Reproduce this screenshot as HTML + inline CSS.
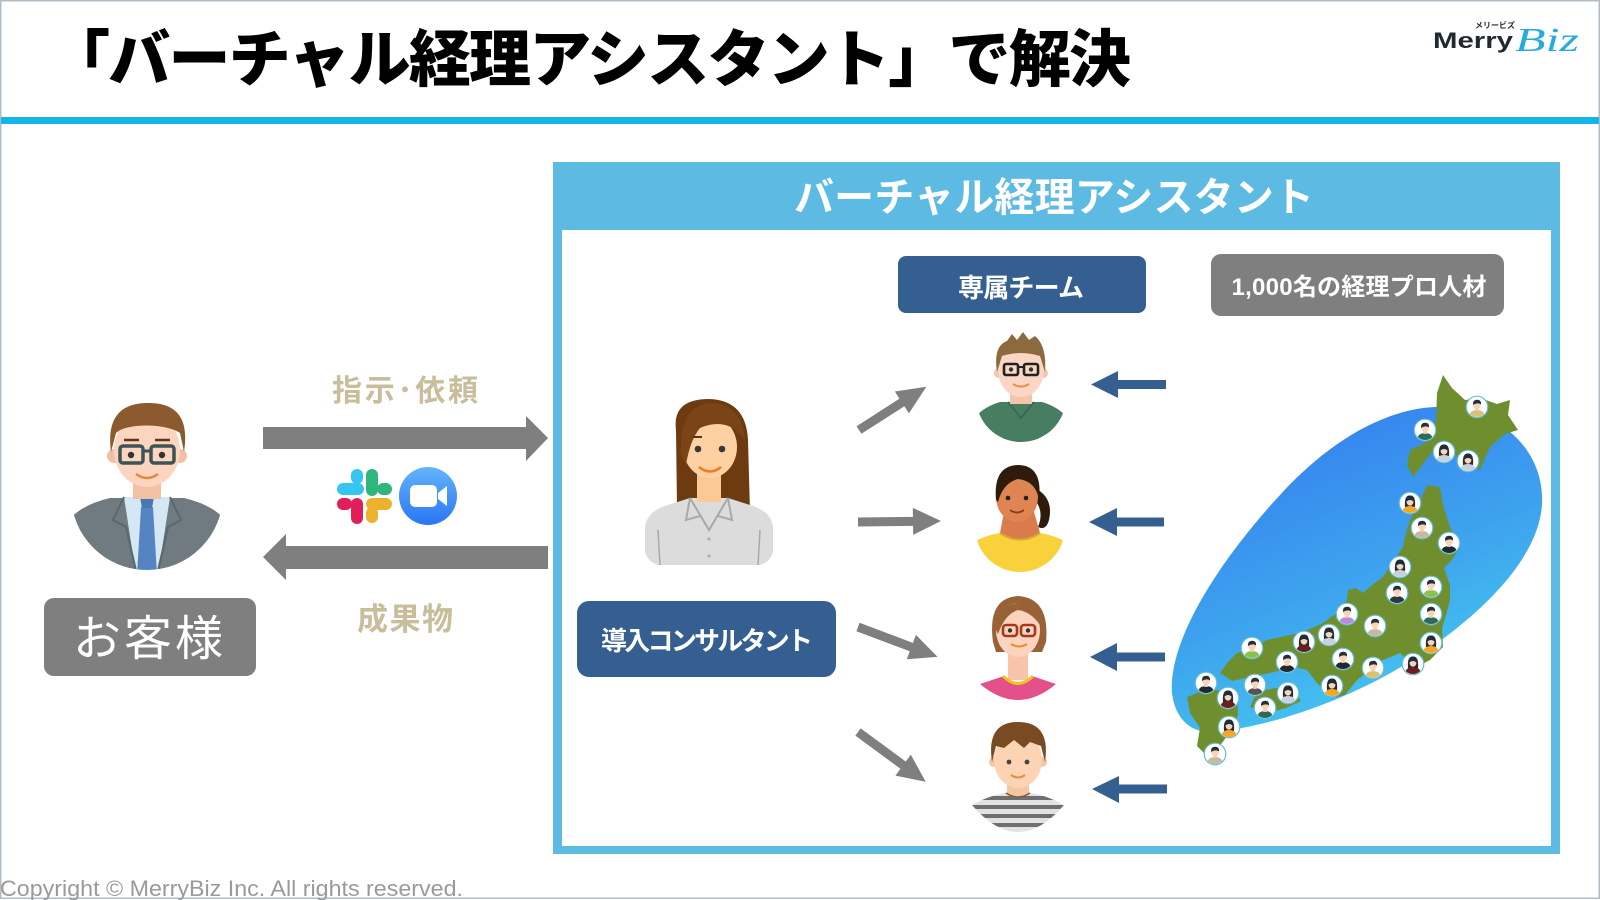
<!DOCTYPE html>
<html><head><meta charset="utf-8">
<style>
html,body{margin:0;padding:0;background:#fff;}
svg{display:block;}
text{font-family:"Liberation Sans","Noto Sans CJK JP",sans-serif;}
</style></head>
<body>
<svg width="1600" height="900" viewBox="0 0 1600 900" xmlns="http://www.w3.org/2000/svg">
<defs>
  <linearGradient id="sea" gradientUnits="userSpaceOnUse" x1="1300" y1="410" x2="1430" y2="735">
    <stop offset="0" stop-color="#3580ef"/>
    <stop offset="0.55" stop-color="#3ea6ee"/>
    <stop offset="1" stop-color="#47d0f0"/>
  </linearGradient>
  <linearGradient id="zoomg" x1="0" y1="0" x2="0" y2="1">
    <stop offset="0" stop-color="#62b4fb"/>
    <stop offset="1" stop-color="#2b76f4"/>
  </linearGradient>
  <pattern id="stripes" patternUnits="userSpaceOnUse" x="0" y="796" width="20" height="9">
    <rect width="20" height="9" fill="#e2e2e2"/>
    <rect y="0" width="20" height="4" fill="#6f6f6f"/>
  </pattern>
  <clipPath id="cCust"><circle cx="147" cy="494" r="76"/></clipPath>
  <clipPath id="cM1"><circle cx="1021" cy="397" r="45"/></clipPath>
  <clipPath id="cM2"><circle cx="1020" cy="527" r="45"/></clipPath>
  <clipPath id="dot"><circle cx="0" cy="0" r="10"/></clipPath>
  <symbol id="man" viewBox="-12 -12 24 24" overflow="visible">
    <circle r="10.8" fill="#fff" stroke="#62bcd6" stroke-width="1.2"/>
    <g clip-path="url(#dot)">
      <path d="M-8,11 Q-8,3 0,3 Q8,3 8,11 Z" fill="currentColor"/>
      <rect x="-1.8" y="0" width="3.6" height="4" fill="#f3c7a8"/>
      <ellipse cx="0" cy="-2" rx="3.8" ry="4.3" fill="#f7d3b8"/>
      <path d="M-4,-2 Q-4.5,-7.5 0.5,-7.2 Q4.5,-7 4,-2.5 Q1,-5 -4,-2 Z" fill="#23303a"/>
    </g>
  </symbol>
  <symbol id="woman" viewBox="-12 -12 24 24" overflow="visible">
    <circle r="10.8" fill="#fff" stroke="#62bcd6" stroke-width="1.2"/>
    <g clip-path="url(#dot)">
      <path d="M-5,4 Q-6,-8 0,-7.5 Q6,-8 5,4 Z" fill="#1e2d3a"/>
      <path d="M-8,11 Q-8,3 0,3 Q8,3 8,11 Z" fill="currentColor"/>
      <ellipse cx="0" cy="-1.5" rx="3.5" ry="4.2" fill="#f7d3b8"/>
      <path d="M-4,-1 Q-3,-7 2,-6 Q4,-5 4,-1 Q0,-5 -4,-1 Z" fill="#1e2d3a"/>
    </g>
  </symbol>
</defs>

<!-- slide frame -->
<rect x="0.75" y="0.75" width="1598.5" height="897.5" fill="none" stroke="#b2bcc6" stroke-width="1.5"/>

<!-- title -->
<text x="48" y="81" font-size="62" font-weight="900" fill="#000" textLength="1083" lengthAdjust="spacing">「バーチャル経理アシスタント」で解決</text>

<!-- logo -->
<text x="1475" y="28" font-size="8" font-weight="bold" fill="#1f2a30" textLength="40" lengthAdjust="spacingAndGlyphs">メリービズ</text>
<text x="1433" y="48" font-size="22" font-weight="bold" fill="#1f2a30" textLength="80" lengthAdjust="spacingAndGlyphs">Merry</text>
<text x="1515" y="51" font-size="34" font-style="italic" fill="#27aae1" textLength="64" lengthAdjust="spacingAndGlyphs" style="font-family:'Liberation Serif',serif">Biz</text>

<!-- blue rule -->
<rect x="1" y="117" width="1598" height="7" fill="#14b6ea"/>

<!-- main box -->
<rect x="553" y="162" width="1007" height="692" fill="#5cbae3"/>
<rect x="562" y="230" width="989" height="616" fill="#fff"/>
<text x="1054" y="211" font-size="40" font-weight="bold" fill="#fff" text-anchor="middle" textLength="520" lengthAdjust="spacing">バーチャル経理アシスタント</text>

<!-- label boxes -->
<rect x="898" y="256" width="248" height="57" rx="8" fill="#355f91"/>
<text x="1021" y="297" font-size="26" font-weight="bold" fill="#fff" text-anchor="middle" textLength="126" lengthAdjust="spacing">専属チーム</text>

<rect x="1211" y="254" width="293" height="62" rx="10" fill="#7f7f7f"/>
<text x="1359" y="295" font-size="24" font-weight="bold" fill="#fff" text-anchor="middle" textLength="255" lengthAdjust="spacing">1,000名の経理プロ人材</text>

<rect x="577" y="601" width="259" height="76" rx="12" fill="#355f91"/>
<text x="707" y="650" font-size="26" font-weight="bold" fill="#fff" text-anchor="middle" textLength="212" lengthAdjust="spacing">導入コンサルタント</text>

<rect x="44" y="598" width="212" height="78" rx="10" fill="#7f7f7f"/>
<text x="148" y="655" font-size="48" fill="#fff" text-anchor="middle" textLength="150" lengthAdjust="spacing">お客様</text>

<!-- customer arrows & labels -->
<text x="405" y="401" font-size="30" font-weight="bold" fill="#c8be9c" text-anchor="middle" textLength="146" lengthAdjust="spacing">指示･依頼</text>
<polygon points="263,427 526,427 526,416 548,438 526,461 526,449 263,449" fill="#7f7f7f"/>
<polygon points="548,546 286,546 286,534 263,557 286,580 286,569 548,569" fill="#7f7f7f"/>
<text x="405" y="630" font-size="31" font-weight="bold" fill="#c8be9c" text-anchor="middle" textLength="96" lengthAdjust="spacing">成果物</text>

<!-- slack -->
<g>
  <rect x="337" y="483" width="27" height="12" rx="6" fill="#36c5f0"/>
  <rect x="351" y="469" width="12" height="15" rx="6" fill="#36c5f0"/>
  <rect x="366" y="469" width="12" height="27" rx="6" fill="#2eb67d"/>
  <rect x="377" y="483" width="15" height="12" rx="6" fill="#2eb67d"/>
  <rect x="366" y="498" width="26" height="12" rx="6" fill="#ecb22e"/>
  <rect x="366" y="507" width="12" height="16" rx="6" fill="#ecb22e"/>
  <rect x="351" y="498" width="12" height="26" rx="6" fill="#e01e5a"/>
  <rect x="337" y="498" width="15" height="12" rx="6" fill="#e01e5a"/>
</g>
<!-- zoom -->
<circle cx="428" cy="496" r="29" fill="url(#zoomg)"/>
<rect x="410" y="485" width="27" height="22" rx="5" fill="#fff"/>
<polygon points="438,493 447,486 447,506 438,499" fill="#fff"/>

<!-- customer avatar -->
<g>
  <g clip-path="url(#cCust)">
    <path d="M62,600 L62,535 Q68,508 110,498 L184,498 Q226,508 232,535 L232,600 Z" fill="#6f7a81"/>
    <path d="M124,497 L170,497 L158,575 L136,575 Z" fill="#d4e7f4"/>
    <path d="M124,497 L113,520 L126,527 L137,575" fill="none" stroke="#5c666c" stroke-width="2"/>
    <path d="M170,497 L181,520 L168,527 L157,575" fill="none" stroke="#5c666c" stroke-width="2"/>
    <path d="M141,507 L153,507 L157,575 L137,575 Z" fill="#5485c1"/>
    <path d="M140,497 L154,497 L152,508 L142,508 Z" fill="#4877b2"/>
  </g>
  <rect x="133" y="468" width="28" height="31" fill="#f3c0a4"/>
  <circle cx="114" cy="456" r="7" fill="#f3c0a4"/>
  <circle cx="180" cy="456" r="7" fill="#f3c0a4"/>
  <ellipse cx="147" cy="450" rx="33" ry="37" fill="#fbd5c0"/>
  <path d="M111,452 C106,414 124,403 148,403 C173,403 190,414 184,452 L180,433 C168,424 128,422 116,433 Z" fill="#8b5a2e"/>
  <line x1="124" y1="440" x2="139" y2="440" stroke="#5a3a1c" stroke-width="2.5"/>
  <line x1="155" y1="440" x2="170" y2="440" stroke="#5a3a1c" stroke-width="2.5"/>
  <rect x="120" y="446" width="23" height="17" rx="3" fill="none" stroke="#3c5456" stroke-width="3.5"/>
  <rect x="151" y="446" width="23" height="17" rx="3" fill="none" stroke="#3c5456" stroke-width="3.5"/>
  <line x1="143" y1="451" x2="151" y2="451" stroke="#3c5456" stroke-width="3"/>
  <circle cx="131" cy="455" r="3.2" fill="#333"/>
  <circle cx="162" cy="455" r="3.2" fill="#333"/>
  <path d="M136,474 Q147,482 158,474" fill="none" stroke="#e4873f" stroke-width="2.5"/>
</g>

<!-- consultant avatar -->
<g>
  <path d="M676,430 Q672,399 709,399 Q746,400 748,440 L750,512 L677,508 Z" fill="#6e3b10"/>
  <path d="M645,552 L645,527 Q647,511 668,505 L690,498 L728,498 L750,505 Q771,511 773,527 L773,552 Q770,562 760,565 L658,565 Q648,562 645,552 Z" fill="#dcdcdc"/>
  <rect x="697" y="468" width="24" height="34" fill="#fcc893"/>
  <path d="M690,498 L709,530 L728,498" fill="none" stroke="#a9a9a9" stroke-width="2"/>
  <path d="M690,498 L686,520 L700,516" fill="none" stroke="#a9a9a9" stroke-width="2"/>
  <path d="M728,498 L732,520 L718,516" fill="none" stroke="#a9a9a9" stroke-width="2"/>
  <line x1="658" y1="530" x2="660" y2="565" stroke="#a9a9a9" stroke-width="1.5"/>
  <line x1="760" y1="530" x2="758" y2="565" stroke="#a9a9a9" stroke-width="1.5"/>
  <circle cx="709" cy="539" r="1.5" fill="#aaa"/>
  <circle cx="709" cy="556" r="1.5" fill="#aaa"/>
  <ellipse cx="710" cy="447" rx="27" ry="31" fill="#fdd1a2"/>
  <path d="M681,455 Q679,404 712,403 Q742,404 745,440 Q728,416 700,428 Q690,440 686,465 Z" fill="#7a4416"/>
  <line x1="693" y1="437" x2="702" y2="437" stroke="#5a3210" stroke-width="2"/>
  <circle cx="698" cy="449" r="3.3" fill="#3a3a3a"/>
  <circle cx="722" cy="449" r="3.3" fill="#3a3a3a"/>
  <path d="M699,467 Q710,476 721,467" fill="none" stroke="#f27b1c" stroke-width="2.5"/>
</g>

<!-- team avatar 1: green shirt man -->
<g>
  <g clip-path="url(#cM1)">
    <path d="M972,450 L972,422 Q980,408 1000,402 L1042,402 Q1062,408 1070,422 L1070,450 Z" fill="#477e62"/>
  </g>
  <path d="M1008,402 L1021,418 L1034,402" fill="none" stroke="#3a6a52" stroke-width="2"/>
  <rect x="1010" y="388" width="22" height="16" fill="#f3c6ac"/>
  <circle cx="999" cy="373" r="5" fill="#f3c6ac"/>
  <circle cx="1043" cy="373" r="5" fill="#f3c6ac"/>
  <ellipse cx="1021" cy="370" rx="23" ry="27" fill="#fbd6c4"/>
  <path d="M997,372 Q993,346 1007,341 L1012,334 L1017,340 L1023,332 L1029,340 L1035,336 Q1047,346 1045,372 L1040,356 Q1021,350 1002,356 Z" fill="#8d6a3d"/>
  <rect x="1004" y="364" width="14" height="11" rx="2" fill="none" stroke="#222" stroke-width="2.6"/>
  <rect x="1024" y="364" width="14" height="11" rx="2" fill="none" stroke="#222" stroke-width="2.6"/>
  <line x1="1018" y1="367" x2="1024" y2="367" stroke="#222" stroke-width="2"/>
  <circle cx="1011" cy="369.5" r="2.2" fill="#333"/>
  <circle cx="1031" cy="369.5" r="2.2" fill="#333"/>
  <path d="M1013,384 Q1021,389 1029,384" fill="none" stroke="#ee8a4a" stroke-width="2"/>
</g>

<!-- team avatar 2: yellow woman -->
<g>
  <path d="M1035,488 Q1054,498 1049,520 Q1046,531 1038,527 Q1045,510 1033,498 Z" fill="#2f1b0b"/>
  <g clip-path="url(#cM2)">
    <path d="M965,580 L965,550 Q976,537 1000,533 L1040,533 Q1064,537 1075,550 L1075,580 Z" fill="#f9d23b"/>
  </g>
  <path d="M1004,512 L1034,512 L1040,533 Q1020,546 1000,533 Z" fill="#d97b4d"/>
  <path d="M1000,533 Q1020,546 1040,533" fill="none" stroke="#d4a43a" stroke-width="2"/>
  <ellipse cx="1017" cy="497" rx="21" ry="25" fill="#df8553"/>
  <path d="M996,500 Q993,465 1019,465 Q1043,466 1039,500 Q1036,481 1018,479 Q1003,483 998,502 Z" fill="#2f1b0b"/>
  <circle cx="1008" cy="498" r="2.3" fill="#222"/>
  <circle cx="1026" cy="498" r="2.3" fill="#222"/>
  <path d="M1010,510 Q1017,515 1024,510" fill="none" stroke="#8a3a1a" stroke-width="1.8"/>
</g>

<!-- team avatar 3: pink woman -->
<g>
  <path d="M993,642 Q987,598 1018,596 Q1050,598 1046,642 L1042,652 L996,652 Z" fill="#986236"/>
  <rect x="1008" y="648" width="20" height="32" fill="#f8c3ab"/>
  <path d="M980,684 L1004,676 Q1018,690 1032,676 L1056,684 Q1018,716 980,684 Z" fill="#e3508a"/>
  <path d="M1003,676 Q1018,691 1033,676" fill="none" stroke="#f6c21a" stroke-width="3"/>
  <ellipse cx="1018" cy="630" rx="22" ry="27" fill="#fcd3bf"/>
  <path d="M995,628 Q998,600 1028,603 Q1046,611 1044,632 Q1034,612 1018,610 Q1005,614 998,634 Z" fill="#986236"/>
  <rect x="1003" y="625" width="14" height="11" rx="3" fill="none" stroke="#a43a1b" stroke-width="2.6"/>
  <rect x="1021" y="625" width="14" height="11" rx="3" fill="none" stroke="#a43a1b" stroke-width="2.6"/>
  <circle cx="1010" cy="630.5" r="2.2" fill="#333"/>
  <circle cx="1028" cy="630.5" r="2.2" fill="#333"/>
  <path d="M1011,644 Q1019,649 1027,644" fill="none" stroke="#ee8a2a" stroke-width="2"/>
</g>

<!-- team avatar 4: striped boy -->
<g>
  <rect x="1007" y="776" width="22" height="24" fill="#f6c6a3"/>
  <path d="M972,805 Q990,795 1006,793 Q1018,801 1030,793 Q1046,795 1064,805 Q1018,859 972,805 Z" fill="url(#stripes)"/>
  <path d="M1006,793 Q1018,801 1030,793" fill="none" stroke="#7b5a40" stroke-width="1.5"/>
  <circle cx="994" cy="762" r="5" fill="#f6c6a3"/>
  <circle cx="1042" cy="762" r="5" fill="#f6c6a3"/>
  <ellipse cx="1018" cy="760" rx="24" ry="28" fill="#fcd4b4"/>
  <path d="M992,762 Q986,722 1018,722 Q1051,722 1045,762 L1041,746 L1030,742 L1024,748 L1014,740 L1004,748 L996,746 Z" fill="#7a4a22"/>
  <circle cx="1009" cy="762" r="2.4" fill="#444"/>
  <circle cx="1027" cy="762" r="2.4" fill="#444"/>
  <path d="M1011,775 Q1018,780 1025,775" fill="none" stroke="#e88a4a" stroke-width="2"/>
</g>

<!-- gray arrows consultant -> team -->
<g fill="#7f7f7f">
  <g transform="translate(859,430) rotate(-32.7)"><rect x="0" y="-4.5" width="52" height="9"/><polygon points="51,-13 80,0 51,13"/></g>
  <g transform="translate(858,522) rotate(-0.7)"><rect x="0" y="-4.5" width="56" height="9"/><polygon points="55,-13.5 83,0 55,13.5"/></g>
  <g transform="translate(858,627) rotate(20.6)"><rect x="0" y="-4.5" width="58" height="9"/><polygon points="57,-13 85,0 57,13"/></g>
  <g transform="translate(858,732) rotate(36.3)"><rect x="0" y="-4.5" width="57" height="9"/><polygon points="56,-13 84,0 56,13"/></g>
</g>

<!-- blue arrows -->
<g fill="#355f91">
  <polygon points="1091,384.5 1118,371 1118,380 1166,380 1166,389 1118,389 1118,398"/>
  <polygon points="1089,522 1117,508 1117,517.5 1164,517.5 1164,526.5 1117,526.5 1117,536"/>
  <polygon points="1090,657 1117,643 1117,652.5 1165,652.5 1165,661.5 1117,661.5 1117,671"/>
  <polygon points="1092,789 1119,776 1119,784.5 1167,784.5 1167,793.5 1119,793.5 1119,803"/>
</g>

<!-- map -->
<path d="M1172,693 C1168,640 1220,560 1280,495 C1330,440 1390,405 1445,407 C1500,410 1545,450 1542,505 C1538,560 1480,615 1420,655 C1360,695 1280,725 1215,732 C1190,734 1175,718 1172,693 Z" fill="url(#sea)"/>
<g fill="#6f8f2f">
  <path d="M1443,375 L1452,388 L1465,400 L1480,398 L1497,404 L1510,400 L1508,415 L1518,430 L1505,434 L1490,447 L1480,470 L1468,462 L1452,453 L1432,452 L1420,468 L1413,477 L1407,465 L1410,450 L1421,445 L1430,440 L1436,420 L1437,393 Z"/>
  <path d="M1427,485 L1440,487 L1443,505 L1450,527 L1460,547 L1452,560 L1444,568 L1450,585 L1450,600 L1446,615 L1442,628 L1443,647 L1430,660 L1417,667 L1405,658 L1400,653 L1383,660 L1368,672 L1357,680 L1345,695 L1337,697 L1322,688 L1317,683 L1307,670 L1290,666 L1283,670 L1265,674 L1250,677 L1232,681 L1220,673 L1228,662 L1237,653 L1252,648 L1267,640 L1285,636 L1300,633 L1312,628 L1323,623 L1338,612 L1347,600 L1348,590 L1356,588 L1363,593 L1372,585 L1383,577 L1392,563 L1403,547 L1406,533 L1410,520 L1418,505 Z"/>
  <path d="M1257,692 L1275,688 L1293,689 L1301,701 L1286,708 L1267,713 L1250,707 Z"/>
  <path d="M1187,697 L1200,692 L1217,690 L1237,700 L1238,715 L1233,728 L1222,743 L1208,757 L1197,746 L1200,728 L1190,713 Z"/>
</g>
<g>
  <use href="#man" x="1465" y="395" width="24" height="24" color="#d8c27a"/>
  <use href="#man" x="1413" y="418" width="24" height="24" color="#2d6a5a"/>
  <use href="#woman" x="1432" y="440" width="24" height="24" color="#c9d2da"/>
  <use href="#woman" x="1456" y="449" width="24" height="24" color="#c9d2da"/>
  <use href="#woman" x="1398" y="491" width="24" height="24" color="#f5a623"/>
  <use href="#man" x="1410" y="516" width="24" height="24" color="#c9b8a0"/>
  <use href="#man" x="1437" y="531" width="24" height="24" color="#1f2a30"/>
  <use href="#woman" x="1388" y="555" width="24" height="24" color="#c9d2da"/>
  <use href="#man" x="1385" y="581" width="24" height="24" color="#2a3a40"/>
  <use href="#man" x="1419" y="575" width="24" height="24" color="#8bc34a"/>
  <use href="#man" x="1419" y="602" width="24" height="24" color="#2d6a5a"/>
  <use href="#man" x="1335" y="602" width="24" height="24" color="#b98be0"/>
  <use href="#man" x="1363" y="614" width="24" height="24" color="#c9b8a0"/>
  <use href="#woman" x="1419" y="631" width="24" height="24" color="#f5a623"/>
  <use href="#woman" x="1401" y="652" width="24" height="24" color="#6d1f1f"/>
  <use href="#man" x="1361" y="656" width="24" height="24" color="#d8c27a"/>
  <use href="#man" x="1331" y="647" width="24" height="24" color="#1f2a30"/>
  <use href="#woman" x="1317" y="623" width="24" height="24" color="#c9d2da"/>
  <use href="#woman" x="1292" y="630" width="24" height="24" color="#6d1f1f"/>
  <use href="#man" x="1275" y="650" width="24" height="24" color="#1f2a30"/>
  <use href="#man" x="1240" y="636" width="24" height="24" color="#8bc34a"/>
  <use href="#man" x="1243" y="673" width="24" height="24" color="#555"/>
  <use href="#woman" x="1276" y="681" width="24" height="24" color="#c9d2da"/>
  <use href="#man" x="1253" y="696" width="24" height="24" color="#2d6a5a"/>
  <use href="#woman" x="1320" y="674" width="24" height="24" color="#f5a623"/>
  <use href="#man" x="1194" y="671" width="24" height="24" color="#1f2a30"/>
  <use href="#woman" x="1216" y="686" width="24" height="24" color="#6d1f1f"/>
  <use href="#woman" x="1217" y="715" width="24" height="24" color="#f5a623"/>
  <use href="#man" x="1203" y="742" width="24" height="24" color="#c9b8a0"/>
</g>

<!-- copyright -->
<text x="0" y="896" font-size="22" fill="#9a9a9a" textLength="463" lengthAdjust="spacingAndGlyphs">Copyright © MerryBiz Inc. All rights reserved.</text>
</svg>
</body></html>
